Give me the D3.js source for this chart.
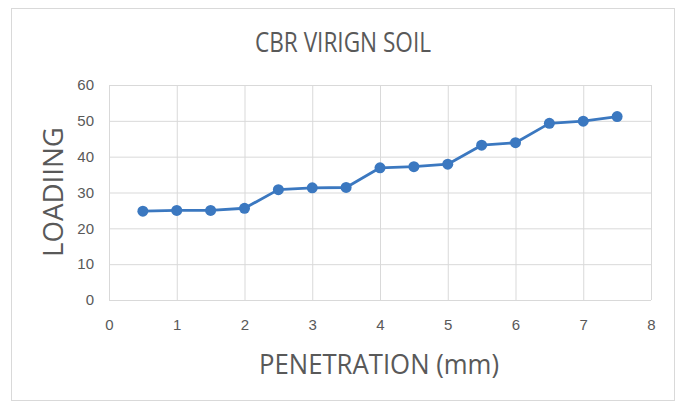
<!DOCTYPE html>
<html>
<head>
<meta charset="utf-8">
<script src="https://cdn.jsdelivr.net/npm/d3@7"></script>
<style>
  html, body { margin: 0; padding: 0; background: #fff; }
  svg { display: block; font-family: "Open Sans", "Liberation Sans", sans-serif; }
  .tick text { fill: #595959; font-size: 15px; }
  .gridline { stroke: #d9d9d9; stroke-width: 1; }
</style>
</head>
<body>
<div id="chart"></div>
<script>
// CBR test on virgin soil: load vs penetration, one series with markers.
const TITLE = "CBR VIRIGN SOIL";
const X_TITLE = "PENETRATION (mm)";
const Y_TITLE = "LOADIING";

const PENETRATION = [0.5, 1, 1.5, 2, 2.5, 3, 3.5, 4, 4.5, 5, 5.5, 6, 6.5, 7, 7.5];
const LOADING     = [24.8, 25.0, 25.0, 25.6, 30.8, 31.3, 31.4, 36.9, 37.2, 37.9, 43.2, 43.9, 49.3, 49.9, 51.2];

const X_TICKS = [0, 1, 2, 3, 4, 5, 6, 7, 8];
const Y_TICKS = [0, 10, 20, 30, 40, 50, 60];

const W = 678, H = 403;
const PLOT = { left: 109, right: 651, top: 85, bottom: 300 };
const BLUE = "#3b78c0";

const svg = d3.select("#chart").append("svg")
  .attr("width", W).attr("height", H);

// outer chart frame
svg.append("rect")
  .attr("x", 11.5).attr("y", 8.5)
  .attr("width", 663).attr("height", 392)
  .attr("fill", "#fff").attr("stroke", "#d9d9d9");

const x = d3.scaleLinear().domain([0, 8]).range([PLOT.left, PLOT.right]);
const y = d3.scaleLinear().domain([0, 60]).range([PLOT.bottom, PLOT.top]);

// gridlines
const g = svg.append("g");
g.append("g")
  .attr("transform", `translate(0,${PLOT.bottom})`)
  .call(d3.axisBottom(x).tickValues(X_TICKS).tickSize(-(PLOT.bottom - PLOT.top)).tickFormat(""))
  .call((s) => s.select(".domain").remove())
  .selectAll("line").attr("class", "gridline");
g.append("g")
  .attr("transform", `translate(${PLOT.left},0)`)
  .call(d3.axisLeft(y).tickValues(Y_TICKS).tickSize(-(PLOT.right - PLOT.left)).tickFormat(""))
  .call((s) => s.select(".domain").remove())
  .selectAll("line").attr("class", "gridline");

// tick labels
svg.append("g")
  .attr("transform", `translate(0,${PLOT.bottom})`)
  .call(d3.axisBottom(x).tickValues(X_TICKS).tickSize(0).tickPadding(19).tickFormat(d3.format("d")))
  .call((s) => s.select(".domain").remove());
svg.append("g")
  .attr("transform", `translate(${PLOT.left},0)`)
  .call(d3.axisLeft(y).tickValues(Y_TICKS).tickSize(0).tickPadding(15).tickFormat(d3.format("d")))
  .call((s) => s.select(".domain").remove());

// series
const pts = PENETRATION.map((p, i) => ({ p, v: LOADING[i] }));
svg.append("path")
  .datum(pts)
  .attr("fill", "none")
  .attr("stroke", BLUE)
  .attr("stroke-width", 2.8)
  .attr("stroke-linejoin", "round")
  .attr("d", d3.line().x((d) => x(d.p)).y((d) => y(d.v)));
svg.append("g").selectAll("circle")
  .data(pts)
  .join("circle")
  .attr("cx", (d) => x(d.p))
  .attr("cy", (d) => y(d.v))
  .attr("r", 5.5)
  .attr("fill", BLUE);

// titles — narrow, tall lettering like the original
svg.append("text")
  .attr("x", 255).attr("y", 52)
  .attr("textLength", 176).attr("lengthAdjust", "spacingAndGlyphs")
  .attr("fill", "#595959").attr("font-size", 27)
  .text(TITLE);
svg.append("text")
  .attr("x", 259).attr("y", 373.5)
  .attr("textLength", 240).attr("lengthAdjust", "spacingAndGlyphs")
  .attr("fill", "#595959").attr("font-size", 28)
  .text(X_TITLE);
svg.append("text")
  .attr("transform", "translate(63,257) rotate(-90)")
  .attr("textLength", 130).attr("lengthAdjust", "spacingAndGlyphs")
  .attr("fill", "#595959").attr("font-size", 27)
  .text(Y_TITLE);
</script>
</body>
</html>
